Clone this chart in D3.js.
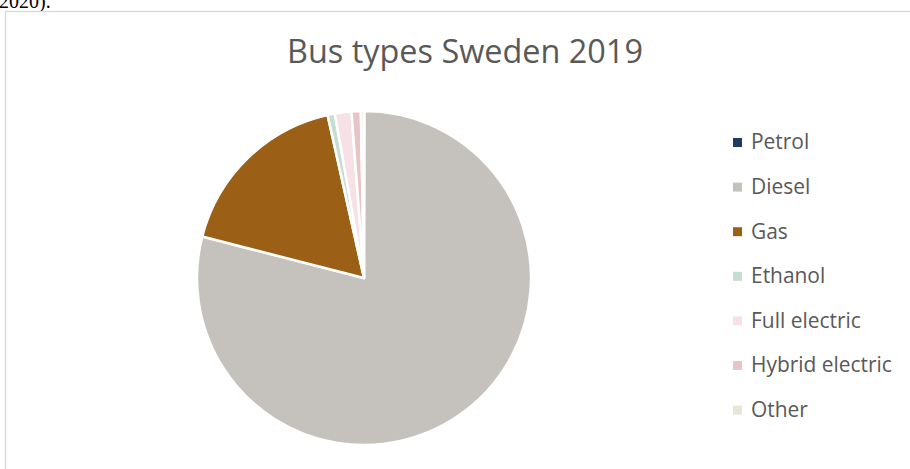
<!DOCTYPE html>
<html>
<head>
<meta charset="utf-8">
<script src="https://cdn.jsdelivr.net/npm/d3@7"></script>
<style>
  html, body { margin: 0; padding: 0; background: #fff; }
  #container { width: 910px; height: 469px; overflow: hidden; }
</style>
</head>
<body>
<div id="container"></div>
<script>
//chart data
const categories = ["Petrol", "Diesel", "Gas", "Ethanol", "Full electric", "Hybrid electric", "Other"]
const shares = [0.05, 78.9, 17.5, 0.7, 1.6, 0.9, 0.3]
const colors = ["#203864", "#C5C2BD", "#9C5F16", "#C6DECF", "#F5E1E6", "#E8C4C8", "#E9E5D7"]
const title = "Bus types Sweden 2019"

const width = 910, height = 469
const font = "'Open Sans', 'Noto Sans', sans-serif"

let svg = d3.select("#container")
    .append("svg")
    .attr("width", width)
    .attr("height", height)

//leftover text from the page above the chart
svg.append("text")
    .attr("x", -1)
    .attr("y", 8)
    .attr("font-family", "'Liberation Serif', serif")
    .attr("font-size", 20)
    .attr("fill", "#000")
    .text("2020).")

//chart frame (runs off the window on the right and bottom)
svg.append("rect")
    .attr("x", 5.5)
    .attr("y", 11.5)
    .attr("width", 1000)
    .attr("height", 600)
    .attr("fill", "#fff")
    .attr("stroke", "#D9D9D9")
    .attr("stroke-width", 1.3)

//fit a text element to a target width
function fitWidth(sel, target) {
    const w = sel.node().getComputedTextLength()
    const fs = +sel.attr("font-size")
    sel.attr("font-size", fs * target / w)
}

//title
let t = svg.append("text")
    .attr("x", 465)
    .attr("y", 63)
    .attr("text-anchor", "middle")
    .attr("font-family", font)
    .attr("font-size", 30)
    .attr("fill", "#595959")
    .text(title)
fitWidth(t, 356)

//pie
const cx = 364, cy = 278, r = 167
let pie = d3.pie().sort(null).value(d => d)
let arc = d3.arc().innerRadius(0).outerRadius(r)
let color = d3.scaleOrdinal().domain(categories).range(colors)

svg.append("g")
    .attr("transform", `translate(${cx},${cy})`)
    .selectAll("path")
    .data(pie(shares))
    .enter().append("path")
    .attr("d", arc)
    .attr("fill", (d, i) => color(categories[i]))
    .attr("stroke", "#fff")
    .attr("stroke-width", 2.5)
    .attr("stroke-linejoin", "round")

//legend
const y0 = 142.5, step = 44.6
let legend = svg.append("g")
    .selectAll("g")
    .data(categories)
    .enter().append("g")
    .attr("transform", (d, i) => `translate(733,${y0 + i * step})`)

legend.append("rect")
    .attr("x", 0)
    .attr("y", -4.5)
    .attr("width", 9)
    .attr("height", 9)
    .attr("fill", d => color(d))

let labels = legend.append("text")
    .attr("x", 18)
    .attr("y", 6.8)
    .attr("font-family", font)
    .attr("font-size", 20)
    .attr("fill", "#595959")
    .text(d => d)

//size legend font from the widest label
let widest = labels.filter(d => d === "Hybrid electric")
const w = widest.node().getComputedTextLength()
labels.attr("font-size", 20 * 141 / w)
</script>
</body>
</html>
